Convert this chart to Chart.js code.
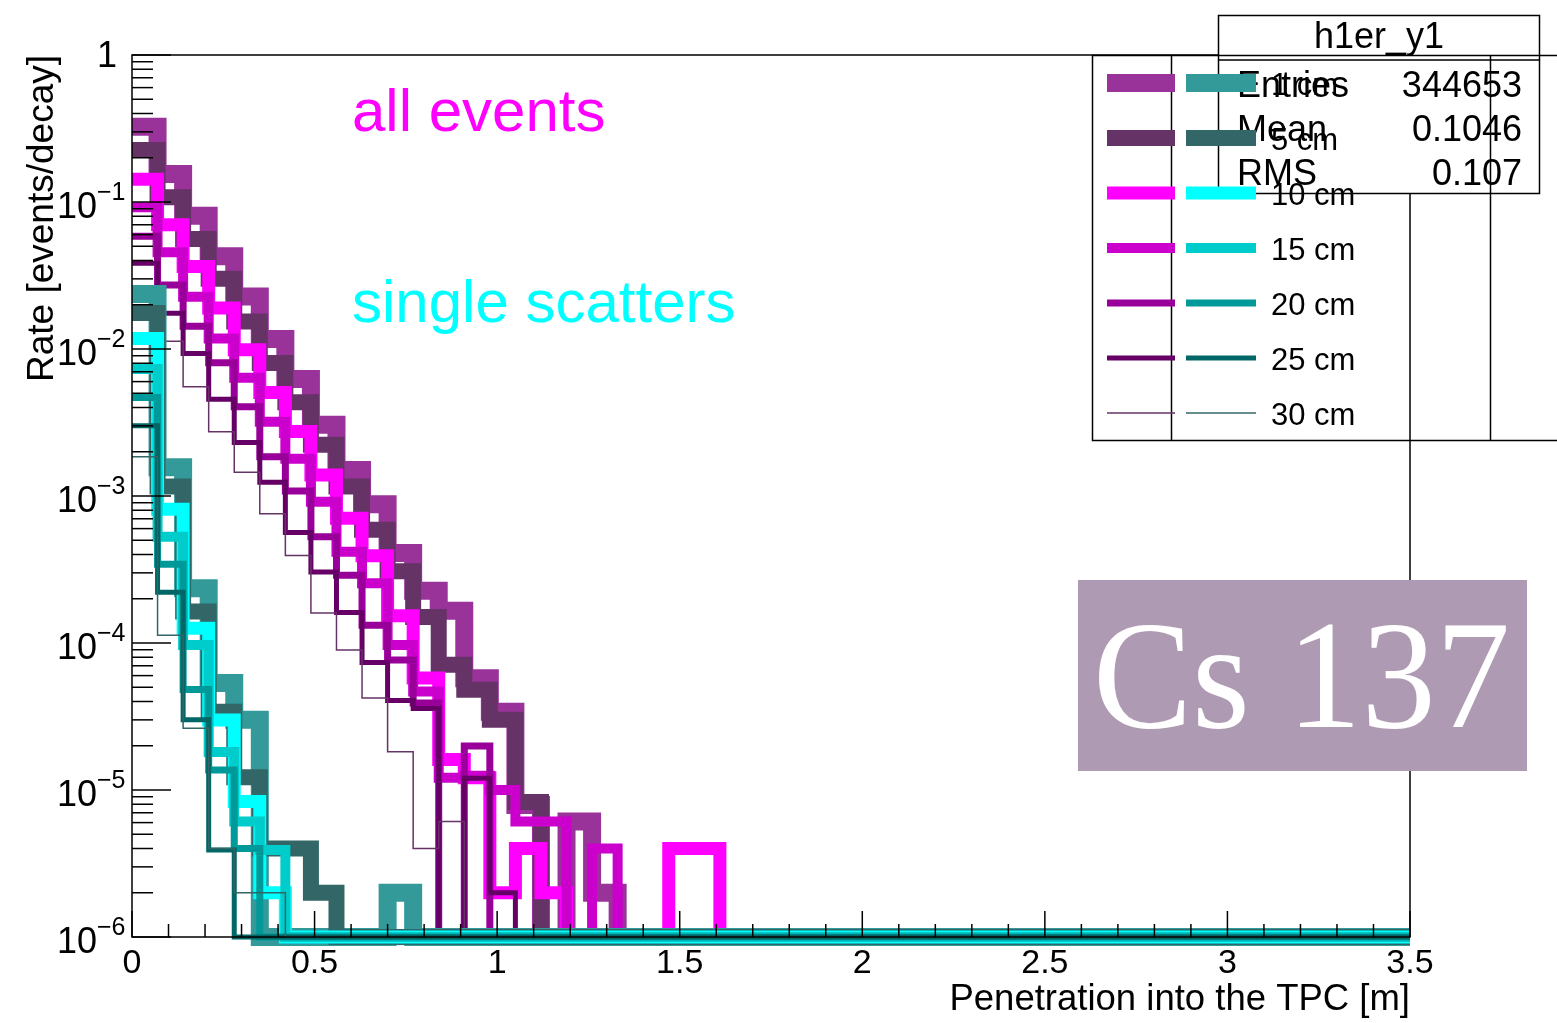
<!DOCTYPE html>
<html>
<head>
<meta charset="utf-8">
<title>Penetration into the TPC - Cs 137</title>
<script src="https://cdn.jsdelivr.net/npm/chart.js@4.4.1/dist/chart.umd.min.js"></script>
<style>
  html, body { margin: 0; padding: 0; background: #fff; }
  #wrap { position: relative; width: 1557px; height: 1023px; overflow: hidden; }
</style>
</head>
<body>
<div id="wrap"><canvas id="c" width="1557" height="1023"></canvas></div>
<script>
// Histogram binning: 50 bins of 0.07 m between 0 and 3.5 m
const BIN_WIDTH = 0.07;
const X_MAX = 3.5;
const Y_MIN = 1e-6;
const Y_MAX = 1;

// Bin contents [events/decay], from the first bin on; later bins are empty
// all events
const allEvents1cm  = [0.325, 0.155, 0.0807, 0.0427, 0.0228, 0.0117, 0.00625, 0.00305, 0.00150, 8.8e-4, 4.1e-4, 2.27e-4, 1.66e-4, 5.75e-5, 3.41e-5, 7.9e-6, 0, 6.1e-6, 2.0e-6];
const allEvents5cm  = [0.226, 0.1076, 0.0560, 0.0301, 0.0154, 0.00803, 0.00434, 0.00223, 0.00116, 5.9e-4, 3.08e-4, 1.50e-4, 7.1e-5, 4.8e-5, 3.0e-5, 8.3e-6];
const allEvents10cm = [0.143, 0.070, 0.0364, 0.0190, 0.00988, 0.00506, 0.00275, 0.00139, 7.06e-4, 3.92e-4, 1.53e-4, 5.77e-5, 1.61e-5, 1.21e-5, 2.0e-6, 4.0e-6, 2.0e-6, 0, 0, 0, 0, 4.0e-6, 4.0e-6];
const allEvents15cm = [0.0920, 0.0455, 0.0227, 0.0118, 0.00638, 0.00320, 0.00179, 9.15e-4, 4.18e-4, 2.55e-4, 9.7e-5, 4.67e-5, 1.21e-5, 1.25e-5, 1.0e-5, 6.1e-6, 6.1e-6, 0, 4.0e-6];
const allEvents20cm = [0.0585, 0.0272, 0.0143, 0.00805, 0.00404, 0.00185, 0.00108, 5.28e-4, 2.89e-4, 1.32e-4, 7.66e-5, 3.91e-5, 0, 1.99e-5];
const allEvents25cm = [0.0383, 0.0175, 0.00931, 0.00456, 0.00231, 0.00124, 5.65e-4, 3.04e-4, 1.61e-4, 7.37e-5, 4.06e-5, 3.58e-5, 0, 1.20e-5, 2.0e-6];
const allEvents30cm = [0.0113, 0.0113, 0.00554, 0.00274, 0.00145, 7.57e-4, 3.94e-4, 1.60e-4, 8.96e-5, 4.23e-5, 1.82e-5, 4.0e-6, 6.1e-6];

// single scatters
const single1cm  = [0.0237, 0.00157, 2.36e-4, 5.35e-5, 3.01e-5, 0, 0, 0, 0, 0, 2.0e-6];
const single5cm  = [0.0176, 0.00116, 1.64e-4, 3.40e-5, 1.22e-5, 4.0e-6, 4.0e-6, 2.0e-6];
const single10cm = [0.0118, 8.13e-4, 1.26e-4, 2.99e-5, 8.35e-6, 2.0e-6];
const single15cm = [0.00731, 5.29e-4, 9.69e-5, 1.81e-5, 6.1e-6, 3.9e-6];
const single20cm = [0.00468, 3.44e-4, 4.83e-5, 1.37e-5, 4.0e-6];
const single25cm = [0.00300, 2.21e-4, 3.0e-5, 3.9e-6];
const single30cm = [0.00185, 1.13e-4, 2.63e-5, 4.0e-6, 2.0e-6, 2.0e-6];

const legendLabels = ['1 cm', '5 cm', '10 cm', '15 cm', '20 cm', '25 cm', '30 cm'];
const allEventsColors = ['#993399', '#663366', '#ff00ff', '#cc00cc', '#990099', '#660066', '#663366'];
const singleColors    = ['#339999', '#336666', '#00ffff', '#00cccc', '#009999', '#006666', '#336666'];
const lineWidths = [18, 16, 13, 10, 7, 5, 1.5];

const allEventsSeries = [allEvents1cm, allEvents5cm, allEvents10cm, allEvents15cm, allEvents20cm, allEvents25cm, allEvents30cm];
const singleSeries = [single1cm, single5cm, single10cm, single15cm, single20cm, single25cm, single30cm];

// axes
const xTickValues = [0, 0.5, 1, 1.5, 2, 2.5, 3, 3.5];
const xTickLabels = ['0', '0.5', '1', '1.5', '2', '2.5', '3', '3.5'];
const yDecades = [0, -1, -2, -3, -4, -5, -6];

// stats box
const statsTitle = 'h1er_y1';
const statsNames = ['Entries', 'Mean', 'RMS'];
const statsValues = ['344653', '0.1046', '0.107'];

const FONT = '"Liberation Sans", Arial, Helvetica, sans-serif';

// ROOT style step outline: bin value held over the bin, empty bins sit on the axis minimum
function histPoints(values) {
    const pts = values.map((v, k) => ({ x: k * BIN_WIDTH, y: v > 0 ? v : Y_MIN }));
    pts.push({ x: values.length * BIN_WIDTH, y: Y_MIN });
    pts.push({ x: X_MAX, y: Y_MIN });
    return pts;
}

const drawList = [];
allEventsSeries.forEach((s, i) => drawList.push({ label: 'all events ' + legendLabels[i], values: s, color: allEventsColors[i], width: lineWidths[i] }));
singleSeries.forEach((s, i) => drawList.push({ label: 'single scatters ' + legendLabels[i], values: s, color: singleColors[i], width: lineWidths[i] }));

const datasets = drawList.map((d, i) => ({
    label: d.label,
    data: histPoints(d.values),
    borderColor: d.color,
    backgroundColor: d.color,
    borderWidth: d.width,
    stepped: true,
    fill: false,
    pointRadius: 0,
    borderJoinStyle: 'miter',
    borderCapStyle: 'butt',
    clip: false,                  // thick lines at the minimum spill below the frame, as in ROOT
    order: drawList.length - i    // later entries painted on top
}));

function line(ctx, x1, y1, x2, y2) {
    ctx.beginPath();
    ctx.moveTo(x1, y1);
    ctx.lineTo(x2, y2);
    ctx.stroke();
}

const rootAxes = {
    id: 'rootAxes',
    afterDatasetsDraw(chart) {
        const { ctx, chartArea: a, scales: { x, y } } = chart;
        ctx.save();
        ctx.strokeStyle = '#000';
        ctx.lineWidth = 1.5;
        ctx.strokeRect(a.left, a.top, a.right - a.left, a.bottom - a.top);

        // y ticks (inside the frame)
        yDecades.forEach(d => {
            const yp = y.getPixelForValue(Math.pow(10, d));
            line(ctx, a.left, yp, a.left + 39, yp);
            if (d > yDecades[yDecades.length - 1]) {
                for (let m = 2; m <= 9; m++) {
                    const ym = y.getPixelForValue(m * Math.pow(10, d - 1));
                    line(ctx, a.left, ym, a.left + 21, ym);
                }
            }
        });
        // x ticks: major every 0.5, minor every 0.1
        for (let i = 0; i <= 35; i++) {
            const xp = x.getPixelForValue(i / 10);
            line(ctx, xp, a.bottom, xp, a.bottom - (i % 5 === 0 ? 26 : 13));
        }

        ctx.fillStyle = '#000';
        // x labels
        ctx.font = '34px ' + FONT;
        ctx.textAlign = 'center';
        ctx.textBaseline = 'alphabetic';
        xTickValues.forEach((v, i) => ctx.fillText(xTickLabels[i], x.getPixelForValue(v), 973));

        // y labels: 1, 10^-1 ... 10^-6
        yDecades.forEach(d => {
            const yp = y.getPixelForValue(Math.pow(10, d));
            ctx.font = '36px ' + FONT;
            ctx.textAlign = 'right';
            if (d === 0) {
                ctx.fillText('1', 117, yp + 12);
            } else {
                ctx.fillText('10', 97, yp + 16);
                ctx.font = '25px ' + FONT;
                ctx.textAlign = 'left';
                ctx.fillText('\u2212' + (-d), 97, yp - 2);
            }
        });

        // axis titles
        ctx.font = '36.5px ' + FONT;
        ctx.textAlign = 'right';
        ctx.fillText('Penetration into the TPC [m]', a.right, 1010);
        ctx.save();
        ctx.translate(53, a.top);
        ctx.rotate(-Math.PI / 2);
        ctx.font = '37px ' + FONT;
        ctx.textAlign = 'right';
        ctx.fillText('Rate [events/decay]', 0, 0);
        ctx.restore();
        ctx.restore();
    },
    afterDraw(chart) {
        const { ctx } = chart;
        ctx.save();
        ctx.textBaseline = 'alphabetic';

        // stats box
        ctx.fillStyle = '#fff';
        ctx.fillRect(1218.5, 15.5, 321, 178);
        ctx.strokeStyle = '#000';
        ctx.lineWidth = 1.5;
        ctx.strokeRect(1218.5, 15.5, 321, 178);
        line(ctx, 1218.5, 60, 1539.5, 60);
        ctx.fillStyle = '#000';
        ctx.font = '36px ' + FONT;
        ctx.textAlign = 'center';
        ctx.fillText(statsTitle, 1379, 48);
        const statsBase = [97, 141, 185];
        statsNames.forEach((n, i) => {
            ctx.textAlign = 'left';
            ctx.fillText(n, 1237, statsBase[i]);
            ctx.textAlign = 'right';
            ctx.fillText(statsValues[i], 1522, statsBase[i]);
        });

        // legend (transparent box)
        ctx.lineWidth = 1.5;
        ctx.strokeRect(1092.5, 55.5, 520, 385);
        line(ctx, 1171.5, 55.5, 1171.5, 440.5);
        line(ctx, 1490.5, 55.5, 1490.5, 440.5);
        const rowY = [83, 138, 193, 248, 303, 358, 413];
        legendLabels.forEach((lab, i) => {
            ctx.lineWidth = lineWidths[i];
            ctx.lineCap = 'butt';
            ctx.strokeStyle = allEventsColors[i];
            line(ctx, 1107, rowY[i], 1175, rowY[i]);
            ctx.strokeStyle = singleColors[i];
            line(ctx, 1186, rowY[i], 1256, rowY[i]);
            ctx.fillStyle = '#000';
            ctx.font = '31px ' + FONT;
            ctx.textAlign = 'left';
            ctx.fillText(lab, 1271, rowY[i] + 12);
        });

        // annotations
        ctx.font = '60px ' + FONT;
        ctx.textAlign = 'left';
        ctx.fillStyle = '#ff00ff';
        ctx.fillText('all events', 352, 131);
        ctx.fillStyle = '#00ffff';
        ctx.fillText('single scatters', 352, 322);

        // source label
        ctx.fillStyle = '#ae9bb3';
        ctx.fillRect(1078, 580, 449, 191);
        ctx.fillStyle = '#fff';
        ctx.font = '155px "Liberation Serif", "Times New Roman", serif';
        const w = ctx.measureText('Cs 137').width;
        ctx.translate(1093, 727);
        ctx.scale(417 / w, 1);
        ctx.fillText('Cs 137', 0, 0);
        ctx.restore();
    }
};

const chart = new Chart(document.getElementById('c').getContext('2d'), {
    type: 'line',
    data: { datasets },
    options: {
        responsive: false,
        animation: false,
        events: [],
        layout: { padding: { left: 132, top: 55, right: 147, bottom: 86 } },
        scales: {
            x: { type: 'linear', min: 0, max: X_MAX, display: false },
            y: { type: 'logarithmic', min: Y_MIN, max: Y_MAX, display: false }
        },
        plugins: {
            legend: { display: false },
            tooltip: { enabled: false }
        }
    },
    plugins: [rootAxes]
});
</script>
</body>
</html>
